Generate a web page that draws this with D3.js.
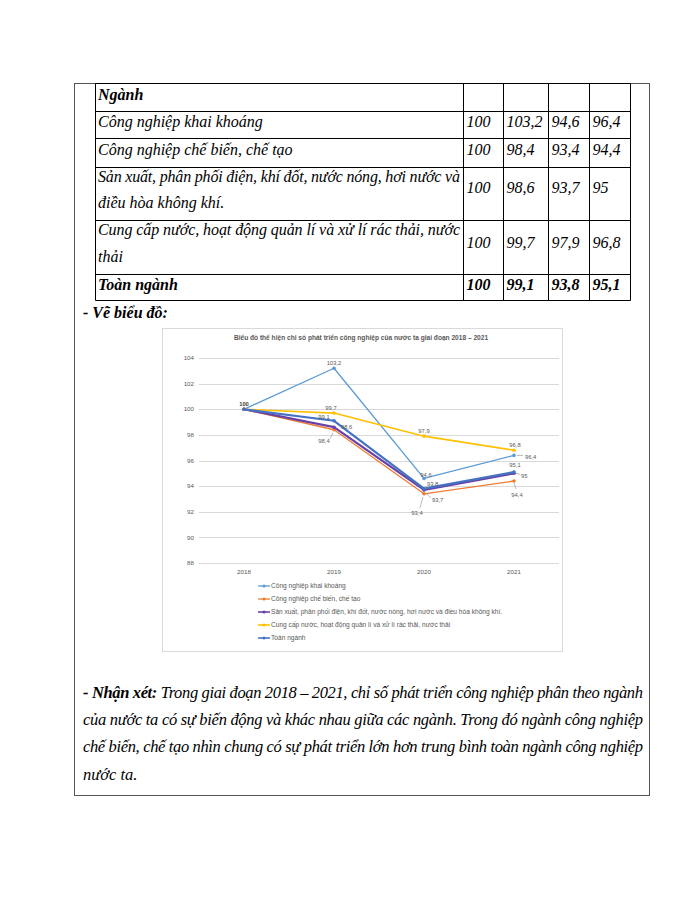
<!DOCTYPE html>
<meta charset="utf-8">
<script src="https://d3js.org/d3.v7.min.js"></script>
<style>
  body { margin: 0; background: #fff; }
</style>
<div id="page"></div>
<script>

// ---- data ----
var years = ["2018", "2019", "2020", "2021"];
var seriesNames = [
  "Công nghiệp khai khoáng",
  "Công nghiệp chế biến, chế tạo",
  "Sản xuất, phân phối điện, khí đốt, nước nóng, hơi nước và điều hòa không khí.",
  "Cung cấp nước, hoạt động quản lí và xử lí rác thải, nước thải",
  "Toàn ngành"
];
var khaiKhoang = [100, 103.2, 94.6, 96.4];
var cheBien    = [100, 98.4, 93.4, 94.4];
var sanXuat    = [100, 98.6, 93.7, 95];
var cungCap    = [100, 99.7, 97.9, 96.8];
var toanNganh  = [100, 99.1, 93.8, 95.1];
var seriesValues = [khaiKhoang, cheBien, sanXuat, cungCap, toanNganh];
var yTicks = [88, 90, 92, 94, 96, 98, 100, 102, 104];

// table rows (name lines, values)
var tableRows = [
  {name: ["Công nghiệp khai khoáng"], vals: ["100", "103,2", "94,6", "96,4"]},
  {name: ["Công nghiệp chế biến, chế tạo"], vals: ["100", "98,4", "93,4", "94,4"]},
  {name: ["Sản xuất, phân phối điện, khí đốt, nước nóng, hơi nước và", "điều hòa không khí."], vals: ["100", "98,6", "93,7", "95"]},
  {name: ["Cung cấp nước, hoạt động quản lí và xử lí rác thải, nước", "thải"], vals: ["100", "99,7", "97,9", "96,8"]},
  {name: ["Toàn ngành"], vals: ["100", "99,1", "93,8", "95,1"], bold: true}
];

var commentLines = [
  "Trong giai đoạn 2018 – 2021, chỉ số phát triển công nghiệp phân theo ngành",
  "của nước ta có sự biến động và khác nhau giữa các ngành. Trong đó ngành công nghiệp",
  "chế biến, chế tạo nhìn chung có sự phát triển lớn hơn trung bình toàn ngành công nghiệp",
  "nước ta."
];

// ---- styles ----
var colors = ["#5B9BD5", "#ED7D31", "#6A3FA8", "#FFC000", "#4472C4"];
var widths = [1.3, 1.3, 2.2, 1.6, 2.2];
var serif = "'Liberation Serif', 'Times New Roman', serif";
var sans = "'Liberation Sans', Arial, sans-serif";

// label placement per series / year: [dx, dy, anchor, leader]
var labelPos = [
  [[0, -5, "middle"], [0, -5, "middle"], [2, -3, "middle"], [11, 2, "start", [3, 0, 9, 0]]],
  [null, [-10, 11, "middle", [-4, 9, -1, 3]], [-7, 19, "middle", [-4, 14, -1, 3]], [3, 14, "middle", [0, 2, 2, 8]]],
  [null, [7, 0, "start"], [8, 10, "start", [2, 3, 7, 8]], [7, 3, "start", [2, 0, 6, 1]]],
  [null, [-3, -5, "middle"], [0, -5, "middle"], [1, -5, "middle"]],
  [null, [-10, -4, "middle"], [3, -5, "start", [2, -3, 2, 0]], [1, -7, "middle"]]
];

var W = 700, H = 906;
var svg = d3.select("#page").append("svg")
  .attr("width", W).attr("height", H);

// outer cell border
svg.append("rect")
  .attr("x", 74.5).attr("y", 83.5).attr("width", 575).attr("height", 712)
  .attr("fill", "none").attr("stroke", "#555").attr("stroke-width", 1);

// ---- table ----
var colX = [95.5, 463.5, 503.5, 548.5, 589.5, 630.5];
var rowY = [83.5, 111.5, 138.5, 167.5, 220.5, 274.5, 300.5];
var tbl = svg.append("g");
tbl.selectAll("line.h").data(rowY).enter().append("line")
  .attr("x1", colX[0]).attr("x2", colX[5])
  .attr("y1", d => d).attr("y2", d => d)
  .attr("stroke", "#000").attr("stroke-width", 1);
tbl.selectAll("line.v").data(colX).enter().append("line")
  .attr("x1", d => d).attr("x2", d => d)
  .attr("y1", rowY[0]).attr("y2", rowY[6])
  .attr("stroke", "#000").attr("stroke-width", 1);

tbl.append("text").attr("x", 98).attr("y", 100)
  .attr("font-family", serif).attr("font-size", 16)
  .attr("font-style", "italic").attr("font-weight", "bold")
  .text("Ngành");

var nameBase = [[127], [155], [182, 208], [235, 262], [290]];
var valBase = [127, 155, 193, 248, 290];
tableRows.forEach(function(r, i) {
  r.name.forEach(function(line, j) {
    var t = tbl.append("text").attr("x", 98).attr("y", nameBase[i][j])
      .attr("font-family", serif).attr("font-size", 16)
      .attr("font-style", "italic")
      .attr("font-weight", r.bold ? "bold" : "normal")
      .text(line);
    if (r.name.length > 1 && j === 0) t.attr("textLength", 362).attr("lengthAdjust", "spacing");
  });
  r.vals.forEach(function(v, k) {
    tbl.append("text").attr("x", colX[k + 1] + 3).attr("y", valBase[i])
      .attr("font-family", serif).attr("font-size", 16)
      .attr("font-style", "italic")
      .attr("font-weight", r.bold ? "bold" : "normal")
      .text(v);
  });
});

svg.append("text").attr("x", 83).attr("y", 318)
  .attr("font-family", serif).attr("font-size", 16)
  .attr("font-style", "italic").attr("font-weight", "bold")
  .text("- Vẽ biểu đồ:");

// ---- chart ----
svg.append("rect")
  .attr("x", 162.5).attr("y", 328.5).attr("width", 400).attr("height", 323)
  .attr("fill", "#fff").attr("stroke", "#d9d9d9");

svg.append("text").attr("x", 361).attr("y", 339.5)
  .attr("text-anchor", "middle")
  .attr("font-family", sans).attr("font-size", 6.6).attr("font-weight", "bold")
  .attr("fill", "#595959")
  .text("Biểu đồ thể hiện chỉ số phát triển công nghiệp của nước ta giai đoạn 2018 – 2021");

var x = d3.scalePoint().domain(years).range([199, 559]).padding(0.5);
var y = d3.scaleLinear().domain([88, 104]).range([563, 358]);

var g = svg.append("g");
g.selectAll("line.grid").data(yTicks).enter().append("line")
  .attr("x1", 199).attr("x2", 559)
  .attr("y1", d => Math.round(y(d)) + 0.5).attr("y2", d => Math.round(y(d)) + 0.5)
  .attr("stroke", "#d9d9d9").attr("stroke-width", 1);

g.selectAll("text.ytick").data(yTicks).enter().append("text")
  .attr("x", 194).attr("y", d => y(d) + 2.2)
  .attr("text-anchor", "end")
  .attr("font-family", sans).attr("font-size", 6.2).attr("fill", "#595959")
  .text(d => d);

g.selectAll("text.xtick").data(years).enter().append("text")
  .attr("x", d => x(d)).attr("y", 573.5)
  .attr("text-anchor", "middle")
  .attr("font-family", sans).attr("font-size", 6.2).attr("fill", "#595959")
  .text(d => d);

var line = d3.line()
  .x((d, i) => x(years[i]))
  .y(d => y(d));

seriesValues.forEach(function(vals, s) {
  g.append("path").datum(vals)
    .attr("fill", "none").attr("stroke", colors[s])
    .attr("stroke-width", widths[s]).attr("stroke-linejoin", "round")
    .attr("d", line);
  g.selectAll("circle.s" + s).data(vals).enter().append("circle")
    .attr("cx", (d, i) => x(years[i])).attr("cy", d => y(d))
    .attr("r", 1.8).attr("fill", colors[s]);
});

// data labels
seriesValues.forEach(function(vals, s) {
  vals.forEach(function(v, i) {
    var p = labelPos[s][i];
    if (!p) return;
    var px = x(years[i]), py = y(v);
    if (p[3]) {
      g.append("line")
        .attr("x1", px + p[3][0]).attr("y1", py + p[3][1])
        .attr("x2", px + p[3][2]).attr("y2", py + p[3][3])
        .attr("stroke", "#8c8c8c").attr("stroke-width", 0.6);
    }
    g.append("text")
      .attr("x", px + p[0]).attr("y", py + p[1] + 2)
      .attr("text-anchor", p[2])
      .attr("font-family", sans).attr("font-size", 5.8)
      .attr("font-weight", (s === 0 && i === 0) ? "bold" : "normal")
      .attr("fill", (s === 0 && i === 0) ? "#404040" : "#595959")
      .text(String(v).replace(".", ","));
  });
});

// legend
var lg = svg.append("g");
seriesNames.forEach(function(name, s) {
  var ly = 586 + s * 13;
  lg.append("line").attr("x1", 258).attr("x2", 270)
    .attr("y1", ly).attr("y2", ly)
    .attr("stroke", colors[s]).attr("stroke-width", Math.min(widths[s], 1.6));
  lg.append("circle").attr("cx", 264).attr("cy", ly).attr("r", 1.6).attr("fill", colors[s]);
  lg.append("text").attr("x", 271).attr("y", ly + 2.2)
    .attr("font-family", sans).attr("font-size", 6.6).attr("fill", "#595959")
    .text(name);
});

// ---- comment paragraph ----
var cg = svg.append("g").attr("font-family", serif).attr("font-size", 16.5).attr("font-style", "italic");
commentLines.forEach(function(l, i) {
  var by = 698 + i * 27.2;
  var t = cg.append("text").attr("y", by);
  if (i === 0) {
    t.attr("x", 83);
    t.append("tspan").attr("font-weight", "bold").text("- Nhận xét: ");
    t.append("tspan").text(l);
    t.attr("textLength", 560).attr("lengthAdjust", "spacing");
  } else {
    t.attr("x", 83).text(l);
    if (i < commentLines.length - 1) t.attr("textLength", 560).attr("lengthAdjust", "spacing");
  }
});

</script>
